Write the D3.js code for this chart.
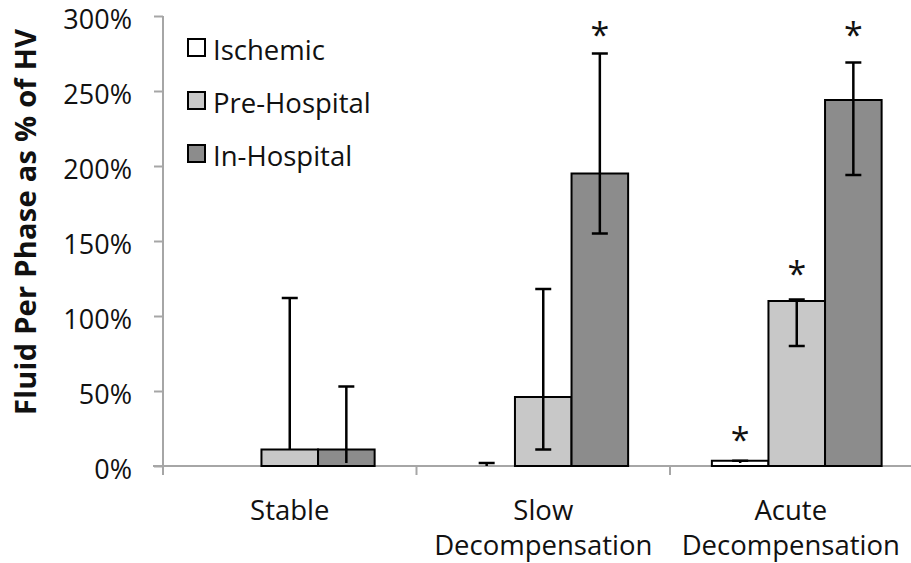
<!DOCTYPE html>
<html>
<head>
<meta charset="utf-8">
<script src="https://cdn.jsdelivr.net/npm/d3@7"></script>
<style>
  body { margin: 0; background: #fff; }
  svg { display: block; font-family: "Open Sans", sans-serif; }
</style>
</head>
<body>
<svg id="chart"></svg>
<script>
// values, in %
const groups = ["Stable", "Slow Decompensation", "Acute Decompensation"];
const groupLines = [["Stable"], ["Slow", "Decompensation"], ["Acute", "Decompensation"]];
const seriesNames = ["Ischemic", "Pre-Hospital", "In-Hospital"];
const ischemic = [0, 0, 3.5];
const ischemicHi = [null, 2, 3.5];
const ischemicLo = [null, null, 2];
const preHospital = [11, 46, 110];
const preHospitalHi = [112, 118, 111];
const preHospitalLo = [null, 11, 80];
const inHospital = [11, 195, 244];
const inHospitalHi = [53, 275, 269];
const inHospitalLo = [2, 155, 194];
// where the significance stars sit (% units), null = no star
const starIschemic = [null, null, 22];
const starPre = [null, null, 133];
const starIn = [null, 292, 292];
const yTicks = [0, 50, 100, 150, 200, 250, 300];

const colors = ["#ffffff", "#c8c8c8", "#8c8c8c"];
const axisColor = "#a6a6a6";

const width = 911, height = 563;
const svg = d3.select("#chart").attr("width", width).attr("height", height);

const x0 = d3.scaleBand().domain(groups).range([163, 923.5]).padding(0);
const x1 = d3.scaleBand().domain(seriesNames).range([0, x0.bandwidth()]).paddingInner(0).paddingOuter(0.74);
const y = d3.scaleLinear().domain([0, 300]).range([466, 16]);

const vals = [ischemic, preHospital, inHospital];
const his = [ischemicHi, preHospitalHi, inHospitalHi];
const los = [ischemicLo, preHospitalLo, inHospitalLo];
const stars = [starIschemic, starPre, starIn];

const rows = [];
groups.forEach((g, gi) => {
  seriesNames.forEach((s, si) => {
    rows.push({ g, s, si, v: vals[si][gi], hi: his[si][gi], lo: los[si][gi], star: stars[si][gi] });
  });
});

// y axis
const yAxis = svg.append("g")
  .attr("transform", "translate(163,0)")
  .call(d3.axisLeft(y).tickValues(yTicks).tickSize(9).tickPadding(22).tickFormat(d => d + "%"));
yAxis.select(".domain").attr("stroke", axisColor).attr("stroke-width", 2).attr("d", "M0,16V466");
yAxis.selectAll(".tick line").attr("stroke", axisColor).attr("stroke-width", 2);
yAxis.selectAll(".tick text").attr("font-size", 27).attr("fill", "#111")
  .attr("font-family", "Open Sans").attr("dy", "0.46em");

// x axis line + group boundary ticks
svg.append("line").attr("x1", 153).attr("x2", width).attr("y1", y(0)).attr("y2", y(0))
  .attr("stroke", axisColor).attr("stroke-width", 2);
svg.selectAll(".xtick").data(groups.concat(["end"])).enter().append("line")
  .attr("class", "xtick")
  .attr("x1", (d, i) => 163 + i * x0.step()).attr("x2", (d, i) => 163 + i * x0.step())
  .attr("y1", y(0)).attr("y2", y(0) + 9)
  .attr("stroke", axisColor).attr("stroke-width", 2);

// bars
const bars = rows.filter(d => d.v > 0);
svg.selectAll(".bar").data(bars).enter().append("rect")
  .attr("class", "bar")
  .attr("x", d => x0(d.g) + x1(d.s))
  .attr("y", d => y(d.v))
  .attr("width", x1.bandwidth())
  .attr("height", d => y(0) - y(d.v))
  .attr("fill", d => colors[d.si])
  .attr("stroke", "#000").attr("stroke-width", 2);

// error bars
const cx = d => x0(d.g) + x1(d.s) + x1.bandwidth() / 2;
const eb = svg.append("g").attr("stroke", "#000").attr("stroke-width", 2.5);
rows.filter(d => d.hi != null).forEach(d => {
  eb.append("line").attr("x1", cx(d)).attr("x2", cx(d)).attr("y1", y(d.v)).attr("y2", y(d.hi));
  eb.append("line").attr("x1", cx(d) - 8).attr("x2", cx(d) + 8).attr("y1", y(d.hi)).attr("y2", y(d.hi));
});
rows.filter(d => d.lo != null).forEach(d => {
  eb.append("line").attr("x1", cx(d)).attr("x2", cx(d)).attr("y1", y(d.v)).attr("y2", y(d.lo));
  if (d.lo >= 5) eb.append("line").attr("x1", cx(d) - 8).attr("x2", cx(d) + 8).attr("y1", y(d.lo)).attr("y2", y(d.lo));
});

// stars
svg.selectAll(".star").data(rows.filter(d => d.star != null)).enter().append("text")
  .attr("class", "star")
  .attr("x", cx)
  .attr("y", d => y(d.star) + 19)
  .attr("text-anchor", "middle")
  .attr("font-size", 34)
  .attr("fill", "#111")
  .text("*");

// x labels
groupLines.forEach((lines, gi) => {
  const t = svg.append("text")
    .attr("x", x0(groups[gi]) + x0.bandwidth() / 2 - (gi === 2 ? 6 : 0))
    .attr("y", 520)
    .attr("text-anchor", "middle")
    .attr("font-size", 27.5)
    .attr("fill", "#111");
  lines.forEach((l, li) => {
    t.append("tspan").attr("x", t.attr("x")).attr("dy", li === 0 ? 0 : 35).text(l);
  });
});

// y title
svg.append("text")
  .attr("transform", "translate(36,222) rotate(-90)")
  .attr("text-anchor", "middle")
  .attr("font-size", 29)
  .attr("font-weight", "bold")
  .attr("fill", "#111")
  .attr("textLength", 386)
  .attr("lengthAdjust", "spacing")
  .text("Fluid Per Phase as % of HV");

// legend
const legend = svg.append("g").attr("transform", "translate(188,39)");
seriesNames.forEach((s, i) => {
  const row = legend.append("g").attr("transform", `translate(0,${i * 53})`);
  row.append("rect").attr("width", 17).attr("height", 17)
    .attr("fill", colors[i]).attr("stroke", "#000").attr("stroke-width", 2);
  row.append("text").attr("x", 25).attr("y", 21).attr("font-size", 27.5).attr("fill", "#111").text(s);
});
</script>
</body>
</html>
